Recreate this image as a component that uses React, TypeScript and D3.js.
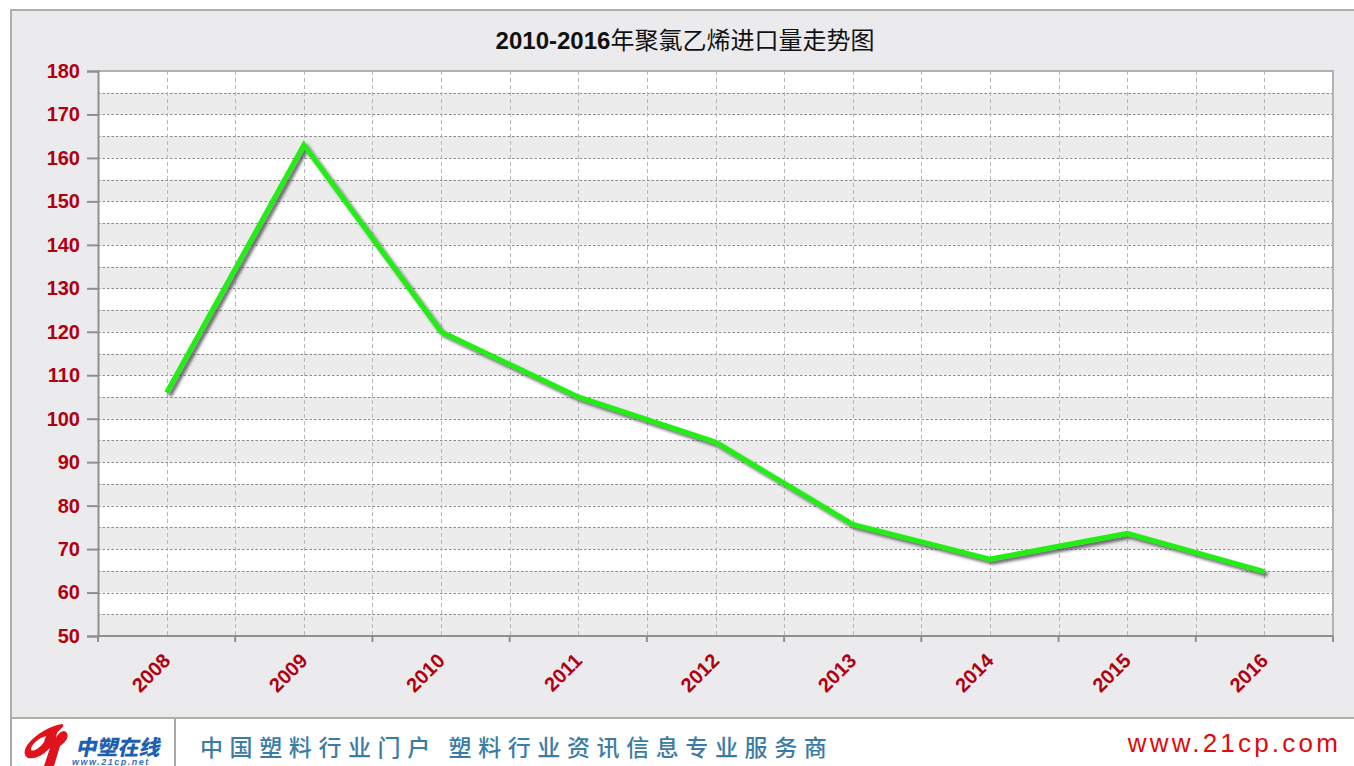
import React, { useEffect, useRef } from "react";
import * as d3 from "d3";

// 2008-2016 import volume
const years = ["2008", "2009", "2010", "2011", "2012", "2013", "2014", "2015", "2016"];
const volumes = [106, 163, 120, 105, 94.6, 75.7, 67.7, 73.6, 64.8];
const yTicks = [50, 60, 70, 80, 90, 100, 110, 120, 130, 140, 150, 160, 170, 180];

const title = "2010-2016年聚氯乙烯进口量走势图";
const footerText = "中国塑料行业门户 塑料行业资讯信息专业服务商";
const footerUrl = "www.21cp.com";

const W = 1354;
const H = 766;

const App = () => {
  const svgRef = useRef<SVGSVGElement>(null);

  useEffect(() => {
    const svg = d3.select(svgRef.current);
    svg.selectAll("*").remove();

    const plot = { left: 98, right: 1333, top: 71, bottom: 636 };
    const frameLeft = 11;
    const frameTop = 10;
    const footerY = 718;

    const x = d3.scaleBand().domain(years).range([plot.left, plot.right]).padding(0);
    const y = d3.scaleLinear().domain([50, 180]).range([plot.bottom, plot.top]);

    const defs = svg.append("defs");
    const shadow = defs
      .append("filter")
      .attr("id", "lineShadow")
      .attr("x", "-10%")
      .attr("y", "-10%")
      .attr("width", "120%")
      .attr("height", "120%");
    shadow
      .append("feDropShadow")
      .attr("dx", 3)
      .attr("dy", 3)
      .attr("stdDeviation", 1.6)
      .attr("flood-color", "#404040")
      .attr("flood-opacity", 0.75);

    // page background + frame
    svg.append("rect").attr("width", W).attr("height", H).attr("fill", "#ffffff");
    svg
      .append("rect")
      .attr("x", frameLeft)
      .attr("y", frameTop)
      .attr("width", W + 20)
      .attr("height", footerY - frameTop)
      .attr("fill", "#ebebed")
      .attr("stroke", "#afafa8")
      .attr("stroke-width", 2);

    // footer
    svg
      .append("line")
      .attr("x1", frameLeft)
      .attr("x2", frameLeft)
      .attr("y1", footerY)
      .attr("y2", H)
      .attr("stroke", "#a9a9a9")
      .attr("stroke-width", 2);
    svg
      .append("line")
      .attr("x1", 175)
      .attr("x2", 175)
      .attr("y1", footerY)
      .attr("y2", H)
      .attr("stroke", "#a9a9a9")
      .attr("stroke-width", 2);

    // logo swoosh
    svg
      .append("path")
      .attr(
        "d",
        "M62,724 C50,726 36,734 28,744 C22,752 24,760 34,758 C40,757 46,752 50,748 L44,766 L54,766 L60,746 C66,742 70,736 66,732 C63,729 58,734 56,738 L57,733 C60,729 66,726 62,724 Z M44,742 C40,748 34,752 31,750 C30,746 38,738 46,736 Z"
      )
      .attr("fill", "#e0121b");
    svg
      .append("text")
      .attr("x", 76)
      .attr("y", 755)
      .attr("font-family", "'Noto Sans CJK SC', sans-serif")
      .attr("font-weight", 900)
      .attr("font-size", 21)
      .attr("fill", "#1f5fb0")
      .attr("transform", "translate(160,0) skewX(-12)")
      .text("中塑在线");
    svg
      .append("text")
      .attr("x", 72)
      .attr("y", 765)
      .attr("font-family", "'Liberation Sans', Arial, sans-serif")
      .attr("font-weight", "bold")
      .attr("font-style", "italic")
      .attr("font-size", 9)
      .attr("letter-spacing", 1.5)
      .attr("fill", "#3b6fb5")
      .text("www.21cp.net");

    svg
      .append("text")
      .attr("x", 200)
      .attr("y", 756)
      .attr("font-family", "'Noto Sans CJK SC', sans-serif")
      .attr("font-size", 23)
      .attr("font-weight", 500)
      .attr("letter-spacing", 6.6)
      .attr("fill", "#3b7ca6")
      .text(footerText);
    svg
      .append("text")
      .attr("x", 1341)
      .attr("y", 752)
      .attr("text-anchor", "end")
      .attr("font-family", "'Liberation Sans', Arial, sans-serif")
      .attr("font-size", 26)
      .attr("letter-spacing", 3.2)
      .attr("fill", "#e00a0a")
      .text(footerUrl);

    // title
    svg
      .append("text")
      .attr("x", 685)
      .attr("y", 49)
      .attr("text-anchor", "middle")
      .attr("font-family", "'Liberation Sans', Arial, 'Noto Sans CJK SC', sans-serif")
      .attr("font-size", 24)
      .attr("fill", "#111")
      .call((t) => {
        t.append("tspan").attr("font-weight", "bold").text(title.slice(0, 9));
        t.append("tspan").attr("font-family", "'Noto Sans CJK SC', sans-serif").text(title.slice(9));
      });

    // plot background with alternating bands
    svg
      .append("rect")
      .attr("x", plot.left)
      .attr("y", plot.top)
      .attr("width", plot.right - plot.left)
      .attr("height", plot.bottom - plot.top)
      .attr("fill", "#ffffff");
    const bandStarts = d3.range(50, 180, 10);
    svg
      .append("g")
      .selectAll("rect")
      .data(bandStarts)
      .join("rect")
      .attr("x", plot.left)
      .attr("y", (d) => y(d + 5))
      .attr("width", plot.right - plot.left)
      .attr("height", (d) => y(d) - y(d + 5))
      .attr("fill", "#ececec");

    // grid
    const grid = svg.append("g").attr("stroke", "#8c8c8c").attr("stroke-width", 1).attr("stroke-dasharray", "2.5,2");
    grid
      .selectAll("line.h")
      .data(d3.range(55, 180, 5))
      .join("line")
      .attr("class", "h")
      .attr("x1", plot.left)
      .attr("x2", plot.right)
      .attr("y1", (d) => Math.round(y(d)) + 0.5)
      .attr("y2", (d) => Math.round(y(d)) + 0.5);
    const vPositions = [
      ...years.map((yr) => (x(yr) as number) + x.bandwidth() / 2),
      ...years.slice(1).map((yr) => x(yr) as number),
    ];
    grid
      .selectAll("line.v")
      .data(vPositions)
      .join("line")
      .attr("class", "v")
      .attr("stroke", "#b8b8b8")
      .attr("stroke-dasharray", "4,3")
      .attr("x1", (d) => Math.round(d) + 0.5)
      .attr("x2", (d) => Math.round(d) + 0.5)
      .attr("y1", plot.top)
      .attr("y2", plot.bottom);

    // plot border
    svg
      .append("path")
      .attr("d", `M${plot.left},${plot.top}H${plot.right}V${plot.bottom}`)
      .attr("fill", "none")
      .attr("stroke", "#b2b2b2")
      .attr("stroke-width", 2);

    // y axis
    const yAxis = svg
      .append("g")
      .attr("transform", `translate(${plot.left},0)`)
      .call(d3.axisLeft(y).tickValues(yTicks).tickSize(11).tickPadding(7));
    yAxis.select(".domain").attr("stroke", "#8f8f8f").attr("stroke-width", 2);
    yAxis.selectAll(".tick line").attr("stroke", "#8f8f8f").attr("stroke-width", 2);
    yAxis
      .selectAll(".tick text")
      .attr("fill", "#b0000f")
      .attr("font-family", "'Liberation Sans', Arial, sans-serif")
      .attr("font-weight", "bold")
      .attr("font-size", 20);

    // x axis
    const xAxisGroup = svg.append("g").attr("transform", `translate(0,${plot.bottom})`);
    xAxisGroup
      .append("line")
      .attr("x1", plot.left - 1)
      .attr("x2", plot.right)
      .attr("stroke", "#8f8f8f")
      .attr("stroke-width", 2);
    xAxisGroup
      .selectAll("line.tick")
      .data([...years.map((yr) => x(yr) as number), plot.right])
      .join("line")
      .attr("class", "tick")
      .attr("x1", (d) => d)
      .attr("x2", (d) => d)
      .attr("y1", 0)
      .attr("y2", 6)
      .attr("stroke", "#8f8f8f")
      .attr("stroke-width", 2);
    xAxisGroup
      .selectAll("text")
      .data(years)
      .join("text")
      .attr("transform", (d) => `translate(${(x(d) as number) + x.bandwidth() / 2 + 5},${26}) rotate(-45)`)
      .attr("text-anchor", "end")
      .attr("fill", "#b0000f")
      .attr("font-family", "'Liberation Sans', Arial, sans-serif")
      .attr("font-weight", "bold")
      .attr("font-size", 20)
      .text((d) => d);

    // line
    const line = d3
      .line<number>()
      .x((_, i) => (x(years[i]) as number) + x.bandwidth() / 2)
      .y((d) => y(d));
    svg
      .append("path")
      .datum(volumes)
      .attr("d", line)
      .attr("fill", "none")
      .attr("stroke", "#22ee14")
      .attr("stroke-width", 5)
      .attr("stroke-linejoin", "miter")
      .attr("filter", "url(#lineShadow)");
  }, []);

  return (
    <svg
      ref={svgRef}
      width={W}
      height={H}
      viewBox={`0 0 ${W} ${H}`}
      style={{ position: "absolute", left: 0, top: 0, display: "block" }}
    ></svg>
  );
};

export default App;
